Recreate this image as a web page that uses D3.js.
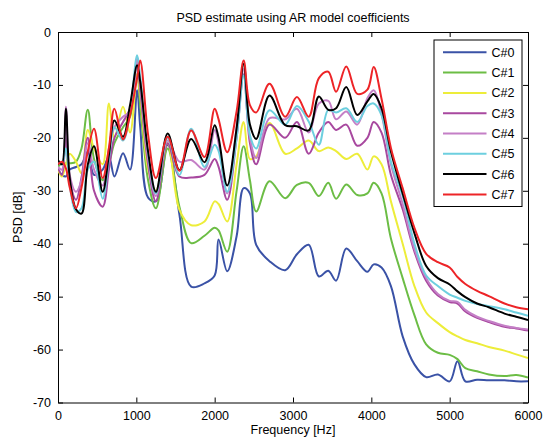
<!DOCTYPE html>
<html>
<head>
<meta charset="utf-8">
<script src="https://cdn.jsdelivr.net/npm/d3@7"></script>
<style>
body { margin: 0; background: #fff; }
text { font-family: Arial, "Liberation Sans", sans-serif; }
</style>
</head>
<body>
<div id="graph"></div>
<script>
// frequency grid (Hz) shared by all the AR model PSD curves
var freqs = [0, 50, 100, 150, 230, 300, 380, 460, 570, 650, 720, 830, 920, 1010, 1050, 1150, 1250, 1400, 1550, 1700,
  1870, 2000, 2050, 2160, 2280, 2370, 2450, 2530, 2700, 2900, 3050, 3200, 3330, 3450, 3550, 3680, 3820, 3950, 4030, 4130,
  4250, 4400, 4550, 4700, 4850, 5000, 5100, 5200, 5350, 5500, 5700, 5850, 6000];

// PSD values in dB, one array per coefficient set
var c0 = [-26, -27, -27.3, -26, -25.5, -25, -22.6, -27, -26, -23.5, -27.3, -22.9, -26, -11, -18, -31.3, -32, -21.3, -34.5, -48.1,
  -47.5, -46, -39.2, -45.2, -38.6, -29.5, -30.5, -40.2, -43.3, -45, -42, -40.2, -46.2, -45.1, -47, -40.9, -43.3, -45.3, -43.9, -44.5,
  -48, -57.5, -62.8, -65.2, -64.7, -66, -62.2, -66, -65.7, -65.8, -65.8, -66, -66];
var c1 = [-25.5, -24.8, -24.8, -24.8, -24.5, -22, -14.7, -24, -28, -25, -21, -18, -16, -8, -14, -28, -33.3, -22, -33, -39.9,
  -38.5, -37, -37.5, -41.5, -30, -21.6, -28, -33.9, -28.2, -31.4, -28.9, -28.5, -31, -28.5, -31.5, -28.8, -30.8, -30.5, -28.5, -30.5,
  -39, -46.5, -53.5, -59, -60.6, -61, -61.8, -63.5, -64.1, -64.7, -65, -64.8, -65.3];
var c2 = [-26, -27.3, -25, -23, -24.5, -26.7, -18.5, -22, -25, -13.5, -20, -14.1, -19, -8, -12, -26, -30, -21, -33.6, -36.5,
  -35.8, -32, -32.5, -35.8, -25, -17, -24, -23.5, -17.2, -23, -22, -20.5, -22.5, -21.8, -22.5, -24, -23, -26, -23.5, -25,
  -32, -40, -48, -53, -55, -56.7, -57.5, -58.2, -58.8, -59.5, -60.2, -60.9, -61.6];
var c3 = [-25.7, -27, -20, -28, -31.7, -27.5, -20, -30, -33, -26, -20, -17, -14.4, -5.5, -11, -25, -32, -21, -27.3, -27.5,
  -27, -24, -25.5, -31.7, -20, -8, -21, -25, -17.5, -20, -17, -23, -19, -17, -18.5, -17.5, -21.5, -20, -17, -19,
  -27, -33.5, -41.5, -47, -49.8, -51, -51.3, -52.8, -54, -54.8, -55.7, -56, -56.4];
var c4 = [-25.5, -26, -14.1, -27, -30.2, -28, -21, -26, -29, -22, -18, -16, -15, -5, -10, -24, -31, -20.5, -24.5, -24.2,
  -26, -18.5, -21, -30.5, -18, -7, -20, -23.8, -16.3, -16.5, -14.5, -19, -13.5, -13, -16.5, -15, -17.5, -12.5, -11, -15.5,
  -25, -32.5, -41, -46.5, -49.5, -50.8, -51, -52.5, -53.8, -54.6, -55.5, -55.9, -56.2];
var c5 = [-24.5, -25, -22, -29, -34, -33.3, -26, -24.5, -31.5, -24, -18, -20.5, -15, -4.4, -8.5, -23, -30.5, -20, -27, -18.3,
  -25.5, -21.3, -22.5, -30.2, -20, -8.2, -19.5, -22, -14.8, -17.5, -14, -16.9, -21.3, -14.7, -15.2, -14.4, -17, -14, -13.5, -15.7,
  -24.5, -31, -40, -46, -48, -49.6, -50.2, -50.8, -51.4, -51.8, -52.4, -53, -53.6];
var c6 = [-24.2, -25, -14.5, -27.6, -33.5, -34.3, -25.1, -21.6, -30.2, -23.2, -16.7, -19.8, -13.8, -6.3, -9.4, -22.6, -30.2, -19.2, -26.1, -20.2,
  -24.6, -17.6, -20, -29, -18.2, -6, -17.5, -20.2, -12, -17.6, -17.8, -18.6, -12.2, -14.7, -14.4, -10.4, -15.7, -13.1, -11.7, -14.4,
  -22.6, -30.5, -38, -44.2, -46.5, -47.7, -49, -50.1, -51.3, -52, -53.2, -53.8, -54.4];
var c7 = [-25, -24.5, -25.7, -29.4, -33.3, -29.4, -22.6, -18.3, -27.6, -21.9, -14.5, -20.3, -15.7, -8.7, -5.4, -19.4, -27.6, -19.8, -26.2, -18.6,
  -23.6, -14.5, -16.5, -22.7, -15, -5.4, -13.8, -15.2, -9.8, -16, -12.3, -16, -8.7, -7.5, -11.3, -6.5, -11.7, -10.9, -6.6, -12.6,
  -21.9, -29.5, -37, -41.9, -43.5, -44.5, -46.3, -47.6, -48.9, -49.9, -51.3, -52, -52.4];

var names = ["C#0", "C#1", "C#2", "C#3", "C#4", "C#5", "C#6", "C#7"];
var colors = ["#3a52a6", "#6cbd45", "#eded3a", "#a8489f", "#c47fc6", "#6dcfdf", "#000000", "#ed2427"];
var xTicks = [0, 1000, 2000, 3000, 4000, 5000, 6000];
var yTicks = [-70, -60, -50, -40, -30, -20, -10, 0];

var series = [c0, c1, c2, c3, c4, c5, c6, c7];

var margin = {top: 32, right: 17, bottom: 35.5, left: 58},
    width = 545 - margin.left - margin.right,
    height = 438 - margin.top - margin.bottom;

var svg = d3.select("#graph").append("svg")
    .attr("width", 545)
    .attr("height", 438)
    .append("g")
    .attr("transform", "translate(" + margin.left + "," + margin.top + ")");

var x = d3.scaleLinear().domain([0, 6000]).range([0, width]);
var y = d3.scaleLinear().domain([-70, 0]).range([height, 0]);

svg.append("defs").append("clipPath").attr("id", "clip")
  .append("rect").attr("width", width).attr("height", height);

// plain number labels (hyphen minus, no thousands separator)
var plain = function(d) { return String(d); };

// axes, ticks pointing inward like matlab
function styleAxis(g) {
  g.selectAll("path").attr("stroke", "#000").attr("stroke-width", 1);
  g.selectAll("line").attr("stroke", "#000");
  g.selectAll("text").attr("font-size", "12.5px").attr("fill", "#000")
    .attr("font-family", "Arial, 'Liberation Sans', sans-serif");
}

svg.append("g")
  .attr("transform", "translate(0," + height + ")")
  .call(d3.axisBottom(x).tickValues(xTicks).tickFormat(plain).tickSizeInner(-5).tickSizeOuter(0).tickPadding(9))
  .call(styleAxis);
svg.append("g")
  .call(d3.axisTop(x).tickValues(xTicks).tickSizeInner(-5).tickSizeOuter(0).tickFormat(""))
  .call(styleAxis);
svg.append("g")
  .call(d3.axisLeft(y).tickValues(yTicks).tickFormat(plain).tickSizeInner(-5).tickSizeOuter(0).tickPadding(7))
  .call(styleAxis);
svg.append("g")
  .attr("transform", "translate(" + width + ",0)")
  .call(d3.axisRight(y).tickValues(yTicks).tickSizeInner(-5).tickSizeOuter(0).tickFormat(""))
  .call(styleAxis);

var line = d3.line()
  .x(function(d, i) { return x(freqs[i]); })
  .y(function(d) { return y(d); })
  .curve(d3.curveCatmullRom.alpha(0.5));

svg.append("g").attr("clip-path", "url(#clip)")
  .selectAll("path.psd")
  .data(series)
  .enter()
  .append("path")
  .attr("class", "psd")
  .attr("d", line)
  .attr("fill", "none")
  .attr("stroke", function(d, i) { return colors[i]; })
  .attr("stroke-width", 2)
  .attr("stroke-linejoin", "round");

// title and labels
svg.append("text")
  .attr("x", width / 2).attr("y", -10)
  .attr("text-anchor", "middle")
  .attr("font-size", "12.5px")
  .text("PSD estimate using AR model coefficients");

svg.append("text")
  .attr("x", width / 2).attr("y", height + 31.5)
  .attr("text-anchor", "middle")
  .attr("font-size", "12.5px")
  .text("Frequency [Hz]");

svg.append("text")
  .attr("transform", "translate(" + (-36) + "," + (height / 2) + ") rotate(-90)")
  .attr("text-anchor", "middle")
  .attr("font-size", "12.5px")
  .text("PSD [dB]");

// legend
var legend = svg.append("g").attr("transform", "translate(376,8)");
legend.append("rect")
  .attr("width", 88).attr("height", 166.5)
  .attr("fill", "#fff").attr("stroke", "#000").attr("stroke-width", 1);

var items = legend.selectAll("g.item")
  .data(names)
  .enter()
  .append("g")
  .attr("class", "item")
  .attr("transform", function(d, i) { return "translate(0," + (12.3 + i * 20.3) + ")"; });
items.append("line")
  .attr("x1", 9).attr("x2", 52.5)
  .attr("stroke", function(d, i) { return colors[i]; })
  .attr("stroke-width", 2);
items.append("text")
  .attr("x", 57.5).attr("y", 4.5)
  .attr("font-size", "12.5px")
  .text(function(d) { return d; });
</script>
</body>
</html>
